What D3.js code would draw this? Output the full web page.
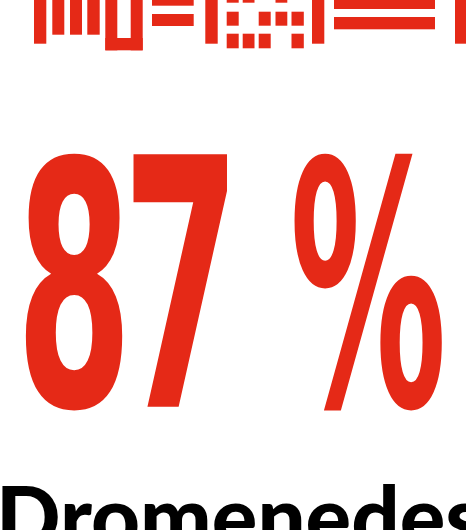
<!DOCTYPE html>
<html>
<head>
<meta charset="utf-8">
<script src="https://cdn.jsdelivr.net/npm/d3@7"></script>
<style>
  html, body { margin: 0; padding: 0; background: #fff; overflow: hidden; }
</style>
</head>
<body>
<div id="chart"></div>
<script>
// share value and the caption under it
var shareValue = 87;
var shareGlyphs = ['8', '7', '%'];
var captionText = 'Dromenedes';

// bottom edges of the pixel lettering cut at the top of the frame
var barCells = [
  ['a', 0, 43.7], ['b', 0, 34.7], ['c', 0, 34.7], ['d', 0, 34.7],
  ['e', 0, 50.3], ['g', 0, 50.3], ['f', 38, 50.3],
  ['h', 0, 5.7], ['h', 14, 26],
  ['i', 0, 43.7],
  ['j', 0, 2.7], ['k', 0, 2.7], ['m', 0, 2.7],
  ['j', 11.7, 25.7], ['l', 11.7, 25.7], ['m', 11.7, 25.7], ['n', 11.7, 25.7],
  ['j', 33.7, 48.3], ['k', 33.7, 48.3], ['l', 33.7, 48.3], ['n', 33.7, 48.3],
  ['o', 0, 43.7],
  ['p', 0, 9], ['p', 17, 29.3],
  ['q', 0, 43.7]
];
var colEdges = {
  a: [34, 46.3], b: [52.3, 64.3], c: [70, 82], d: [87.3, 99.7],
  e: [105.3, 117.3], f: [105.3, 142.7], g: [130.7, 142.7],
  h: [152, 193.7], i: [205.3, 217.7],
  j: [226.7, 238.7], k: [242.7, 254.5], l: [258.7, 270.7], m: [275.5, 287.3], n: [291.5, 303.8],
  o: [312, 324.3], p: [334, 435], q: [455, 470]
};

var width = 466, height = 530;
var red = 'rgb(229, 41, 23)';

var svg = d3.select('#chart').append('svg')
  .attr('width', width)
  .attr('height', height);

var yScale = d3.scaleLinear().domain([0, 50]).range([0, 50]);

svg.append('g')
  .selectAll('rect')
  .data(barCells)
  .enter()
  .append('rect')
  .attr('x', function(d){ return colEdges[d[0]][0]; })
  .attr('width', function(d){ return colEdges[d[0]][1] - colEdges[d[0]][0]; })
  .attr('y', function(d){ return yScale(d[1]); })
  .attr('height', function(d){ return yScale(d[2]) - yScale(d[1]); })
  .attr('fill', red);

// big number: each glyph fitted to its ink box
var glyphBoxes = [
  { x0: 25, x1: 124, y0: 151, y1: 409 },
  { x0: 133.5, x1: 228, y0: 154, y1: 406.7 },
  { x0: 293, x1: 443, y0: 151, y1: 409 }
];
var bigFont = '"DejaVu Sans Condensed", "DejaVu Sans", sans-serif';
var ctx = document.createElement('canvas').getContext('2d');
ctx.font = 'bold 100px ' + bigFont;

svg.append('g')
  .selectAll('text')
  .data(shareGlyphs)
  .enter()
  .append('text')
  .attr('font-family', bigFont)
  .attr('font-weight', 'bold')
  .attr('font-size', 100)
  .attr('fill', red)
  .attr('transform', function(d, i){
    var m = ctx.measureText(d);
    var b = glyphBoxes[i];
    var inkW = m.actualBoundingBoxLeft + m.actualBoundingBoxRight;
    var inkH = m.actualBoundingBoxAscent + m.actualBoundingBoxDescent;
    var sx = (b.x1 - b.x0) / inkW;
    var sy = (b.y1 - b.y0) / inkH;
    var tx = b.x0 + m.actualBoundingBoxLeft * sx;
    var ty = b.y1 - m.actualBoundingBoxDescent * sy;
    return 'translate(' + tx + ',' + ty + ') scale(' + sx + ',' + sy + ')';
  })
  .text(function(d){ return d; });

svg.append('text')
  .attr('x', -4)
  .attr('y', 548)
  .attr('font-family', 'Lato, "Noto Sans", sans-serif')
  .attr('font-weight', 900)
  .attr('font-size', 85)
  .attr('fill', '#000')
  .text(captionText);
</script>
</body>
</html>
